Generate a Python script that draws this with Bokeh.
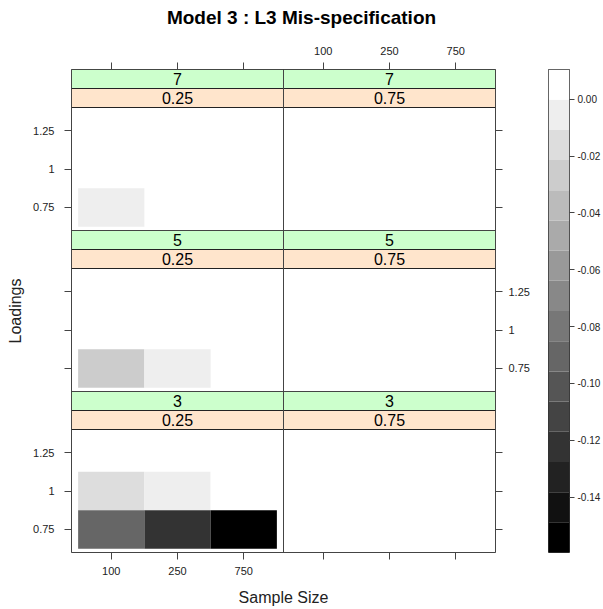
import numpy as np
from bokeh.plotting import figure
from bokeh.models import (Range1d, LinearAxis, FixedTicker, CustomJSTickFormatter,
                          ColumnDataSource, LinearColorMapper)
from bokeh.layouts import row, column
from bokeh.transform import transform
from bokeh.core.properties import value
from bokeh.embed import file_html
from bokeh.resources import INLINE

# ---------------- data ----------------
title_text = "Model 3 : L3 Mis-specification"
x_label = "Sample Size"
y_label = "Loadings"
sample_sizes = ["100", "250", "750"]          # x categories
loadings = ["0.75", "1", "1.25"]              # y categories
item_levels = ["7", "5", "3"]                 # panel rows (top -> bottom)
ratio_levels = ["0.25", "0.75"]               # panel columns (left -> right)

cell_items = ["7", "5", "5", "3", "3", "3", "3", "3", "3"]
cell_ratio = ["0.25", "0.25", "0.25", "0.25", "0.25", "0.25", "0.25", "0.25", "0.25"]
cell_n     = ["100", "100", "250", "100", "250", "750", "100", "250", "750"]
cell_load  = ["0.75", "0.75", "0.75", "1", "1", "1", "0.75", "0.75", "0.75"]
cell_bias  = [-0.005, -0.027, -0.005, -0.016, -0.005, 0.0105, -0.090, -0.122, -0.1595]

cbar_ticks = [0.00, -0.02, -0.04, -0.06, -0.08, -0.10, -0.12, -0.14]
cbar_labels = ["0.00", "-0.02", "-0.04", "-0.06", "-0.08", "-0.10", "-0.12", "-0.14"]
n_bins = 16

# ---------------- styling / layout constants ----------------
FONT = "Liberation Sans"
palette = ["#%02x%02x%02x" % (v, v, v) for v in range(0, 256, 17)]  # black -> white
low, high = min(cell_bias), max(cell_bias)
mapper = LinearColorMapper(palette=palette, low=low, high=high)

W, H = 603, 609
TITLE_H = 36
BODY_H = H - TITLE_H
MAIN_W = 540
FRAME_L, FRAME_T, FRAME_W, FRAME_H = 71, 69 - TITLE_H, 424, 483
PX_X = 212 / 3.2
PX_Y = 123 / 3.2
STRIP = 19 / PX_Y
PITCH = 3.2 + 2 * STRIP
XSPAN = FRAME_W / PX_X
YSPAN = FRAME_H / PX_Y

# ---------------- title strip ----------------
tf = figure(width=W, height=TITLE_H, x_range=Range1d(0, W), y_range=Range1d(0, TITLE_H),
            x_axis_location=None, y_axis_location=None,
            toolbar_location=None, output_backend="svg",
            min_border_left=0, min_border_right=0, min_border_top=0, min_border_bottom=0)
tf.outline_line_color = None
tf.xgrid.visible = False
tf.ygrid.visible = False
tf.text(x=[301], y=[TITLE_H - 17], text=[title_text], text_font=value(FONT),
        text_font_size="19px", text_font_style="bold", text_color="black",
        text_align="center", text_baseline="middle")

# ---------------- panels ----------------
p = figure(width=MAIN_W, height=BODY_H,
           x_range=Range1d(0.4, 0.4 + XSPAN), y_range=Range1d(0.4, 0.4 + YSPAN),
           x_axis_location=None, y_axis_location=None,
           toolbar_location=None, output_backend="svg",
           min_border_left=FRAME_L, min_border_top=FRAME_T,
           min_border_right=MAIN_W - FRAME_L - FRAME_W,
           min_border_bottom=BODY_H - FRAME_T - FRAME_H)
p.background_fill_color = "white"
p.border_fill_color = "white"
p.outline_line_color = "#444444"
p.xgrid.visible = False
p.ygrid.visible = False

for c in range(2):
    p.extra_x_ranges[f"c{c}"] = Range1d(0.4 - c * 3.2, 0.4 + XSPAN - c * 3.2)
for r in range(3):
    off = (2 - r) * PITCH
    p.extra_y_ranges[f"r{r}"] = Range1d(0.4 - off, 0.4 + YSPAN - off)

for r, it in enumerate(item_levels):
    for c, ra in enumerate(ratio_levels):
        xn, yn = f"c{c}", f"r{r}"
        idx = [i for i in range(len(cell_bias)) if cell_items[i] == it and cell_ratio[i] == ra]
        if idx:
            src = ColumnDataSource(dict(
                x=[sample_sizes.index(cell_n[i]) + 1 for i in idx],
                y=[loadings.index(cell_load[i]) + 1 for i in idx],
                bias=[cell_bias[i] for i in idx]))
            p.rect(x="x", y="y", width=1, height=1, source=src,
                   fill_color=transform("bias", mapper), line_color=None,
                   x_range_name=xn, y_range_name=yn)
        # strips
        p.quad(left=[0.4], right=[3.6], bottom=[3.6], top=[3.6 + STRIP],
               fill_color="#FFE5CC", line_color="#222222", line_width=1,
               x_range_name=xn, y_range_name=yn)
        p.quad(left=[0.4], right=[3.6], bottom=[3.6 + STRIP], top=[3.6 + 2 * STRIP],
               fill_color="#CCFFCC", line_color="#222222", line_width=1,
               x_range_name=xn, y_range_name=yn)
        p.text(x=[2, 2], y=[3.6 + STRIP / 2, 3.6 + 1.5 * STRIP], text=[ra, it],
               text_font=value(FONT), text_font_size="16px", text_color="black",
               text_align="center", text_baseline="middle",
               x_range_name=xn, y_range_name=yn)
        # panel outline
        p.quad(left=[0.4], right=[3.6], bottom=[0.4], top=[3.6 + 2 * STRIP],
               fill_color=None, line_color="#444444", line_width=1,
               x_range_name=xn, y_range_name=yn)

JS = "const i = tks.findIndex(t => Math.abs(t - tick) < 1e-6); return i >= 0 ? labs[i] : '';"


def make_axis(ticks, labels, standoff, label_text=None, label_standoff=0):
    ax = LinearAxis(ticker=FixedTicker(ticks=ticks, minor_ticks=[]),
                    formatter=CustomJSTickFormatter(args=dict(tks=ticks, labs=labels), code=JS))
    ax.axis_line_color = None
    ax.major_tick_line_color = "#444444"
    ax.major_tick_out = 7
    ax.major_tick_in = 0
    ax.minor_tick_out = 0
    ax.minor_tick_in = 0
    ax.major_label_standoff = standoff
    ax.major_label_text_font = FONT
    ax.major_label_text_font_size = "11px"
    ax.major_label_text_color = "#222222"
    if label_text:
        ax.axis_label = label_text
        ax.axis_label_text_font = FONT
        ax.axis_label_text_font_size = "16px"
        ax.axis_label_text_font_style = "normal"
        ax.axis_label_text_color = "#222222"
        ax.axis_label_standoff = label_standoff
    return ax


xt = [i + 1 + c * 3.2 for c in range(2) for i in range(len(sample_sizes))]
blank3 = ["", "", ""]
p.add_layout(make_axis(xt, sample_sizes + blank3, 7, x_label, 11), "below")
p.add_layout(make_axis(xt, blank3 + sample_sizes, 8), "above")

yt, yl_left, yl_right = [], [], []
for r in range(3):
    off = (2 - r) * PITCH
    for k in range(len(loadings)):
        yt.append(k + 1 + off)
        yl_left.append(loadings[k] if r != 1 else "")
        yl_right.append(loadings[k] if r == 1 else "")
p.add_layout(make_axis(yt, yl_left, 10, y_label, 6), "left")
p.add_layout(make_axis(yt, yl_right, 6), "right")

# ---------------- colour key ----------------
cb = figure(width=W - MAIN_W, height=BODY_H, x_range=Range1d(0, 1), y_range=Range1d(low, high),
            x_axis_location=None, y_axis_location=None,
            toolbar_location=None, output_backend="svg",
            min_border_left=8, min_border_right=32, min_border_top=FRAME_T,
            min_border_bottom=BODY_H - FRAME_T - 484)
cb.background_fill_color = "white"
cb.border_fill_color = "white"
cb.outline_line_color = "#333333"
cb.xgrid.visible = False
cb.ygrid.visible = False
edges = np.linspace(low, high, n_bins + 1)
bins_src = ColumnDataSource(dict(bottom=edges[:-1], top=edges[1:],
                                 mid=(edges[:-1] + edges[1:]) / 2))
cb.quad(left=0, right=1, bottom="bottom", top="top", source=bins_src,
        fill_color=transform("mid", mapper), line_color=None)
cax = make_axis(cbar_ticks, cbar_labels, 3)
cax.major_tick_out = 5
cax.major_label_text_font_size = "10px"
cb.add_layout(cax, "right")

layout = column(tf, row(p, cb))
open("out.html", "w").write(file_html(layout, INLINE))
